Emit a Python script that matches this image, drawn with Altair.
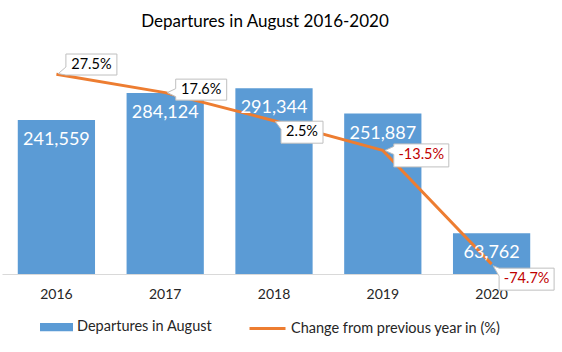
import altair as alt
import pandas as pd

# ---------------- data ----------------
years = ["2016", "2017", "2018", "2019", "2020"]
departures = [241559, 284124, 291344, 251887, 63762]
change_pct = [27.5, 17.6, 2.5, -13.5, -74.7]
series_names = ["Departures in August", "Change from previous year in (%)"]
title_text = "Departures in August 2016-2020"

# callout label layout relative to each line point: (dx, dy, box width, box height)
callout_layout = {
    "2016": (35, -9.7, 51, 21),
    "2017": (36, -3, 51, 21),
    "2018": (28, 11.5, 42, 22),
    "2019": (38.5, 5, 55, 23),
    "2020": (35, 15, 55, 22),
}

FONT = "Lato"
BAR_COLOR = "#5B9BD5"
LINE_COLOR = "#ED7D31"

df = pd.DataFrame({"year": years, "departures": departures, "change": change_pct})
df["bar_series"] = series_names[0]
df["line_series"] = series_names[1]


def r(v):
    return f"{round(v, 2):g}"


def callout_path(ox, oy, w, h):
    L, R = ox - w / 2, ox + w / 2
    T, B = oy - h / 2, oy + h / 2
    yb = min(max(0, T + 4), B - 4)
    tx, ty = L * 0.2, yb * 0.2
    return (f"M{r(L)},{r(T)}L{r(R)},{r(T)}L{r(R)},{r(B)}L{r(L)},{r(B)}"
            f"L{r(L)},{r(yb + 4)}L{r(tx)},{r(ty)}L{r(L)},{r(yb - 4)}Z")


base = alt.Chart(df)

x_enc = alt.X(
    "year:N",
    sort=years,
    scale=alt.Scale(paddingInner=0.29, paddingOuter=0.145),
    axis=alt.Axis(
        title=None, labelAngle=0, labelFont=FONT, labelFontSize=14,
        labelColor="#262626", ticks=False, tickSize=0, domainColor="#D9D9D9",
        domainWidth=1, labelPadding=13, grid=False,
    ),
)
y_bar = alt.Y("departures:Q", scale=alt.Scale(domain=[0, 350000], nice=False), axis=None)
y_line = alt.Y("change:Q", scale=alt.Scale(domain=[-80, 40], nice=False, zero=False), axis=None)

bars = base.mark_bar().encode(
    x=x_enc,
    y=y_bar,
    color=alt.Color(
        "bar_series:N",
        scale=alt.Scale(domain=[series_names[0]], range=[BAR_COLOR]),
        legend=alt.Legend(
            orient="none", legendX=38, legendY=259.5, title=None, padding=0,
            symbolType="M-1,-0.25L1,-0.25L1,0.25L-1,0.25Z", symbolSize=1089,
            symbolStrokeWidth=0, labelFont=FONT, labelFontSize=14.5,
            labelColor="#262626", labelOffset=4, labelLimit=0,
        ),
    ),
)

line = base.mark_line(strokeWidth=3, strokeJoin="round").encode(
    x=x_enc,
    y=y_line,
    stroke=alt.Stroke(
        "line_series:N",
        scale=alt.Scale(domain=[series_names[1]], range=[LINE_COLOR]),
        legend=alt.Legend(
            orient="none", legendX=246, legendY=258, title=None, padding=0,
            symbolType="stroke", symbolSize=1296, symbolStrokeWidth=3,
            labelFont=FONT, labelFontSize=14.5, labelColor="#262626",
            labelOffset=4, labelLimit=0,
        ),
    ),
)

bar_labels = base.mark_text(
    font=FONT, fontSize=18, color="white", baseline="middle", dy=20
).encode(x=x_enc, y=y_bar, text=alt.Text("departures:Q", format=","))

callout_layers = []
for yr in years:
    ox, oy, w, h = callout_layout[yr]
    sub = base.transform_filter(alt.datum.year == yr)
    box = sub.mark_point(
        shape=callout_path(ox, oy, w, h), size=4, filled=True, fill="white",
        stroke="#BFBFBF", strokeWidth=1, opacity=1,
    ).encode(x=x_enc, y=y_line)
    lbl = sub.transform_calculate(
        lbl="(datum.change < 0 ? '-' : '') + format(abs(datum.change), '.1f') + '%'"
    ).mark_text(
        font=FONT, fontSize=14.5, baseline="middle", align="center", dx=ox, dy=oy
    ).encode(
        x=x_enc,
        y=y_line,
        text="lbl:N",
        color=alt.condition(alt.datum.change < 0, alt.value("#C00000"), alt.value("#000000")),
    )
    callout_layers += [box, lbl]

chart = (
    alt.layer(bars, line, bar_labels, *callout_layers)
    .resolve_scale(y="independent")
    .properties(
        width=544,
        height=223,
        padding={"left": 2, "top": 51, "right": 16, "bottom": 78},
        autosize=alt.AutoSizeParams(type="none"),
        background="white",
        title=alt.TitleParams(
            title_text, font=FONT, fontSize=17, fontWeight="normal", color="#000000",
            anchor="middle", frame="group", offset=7, baseline="alphabetic", dx=-9,
        ),
    )
    .configure_view(stroke=None)
)

chart.save("out.html", embed_options={"renderer": "svg", "actions": False})
